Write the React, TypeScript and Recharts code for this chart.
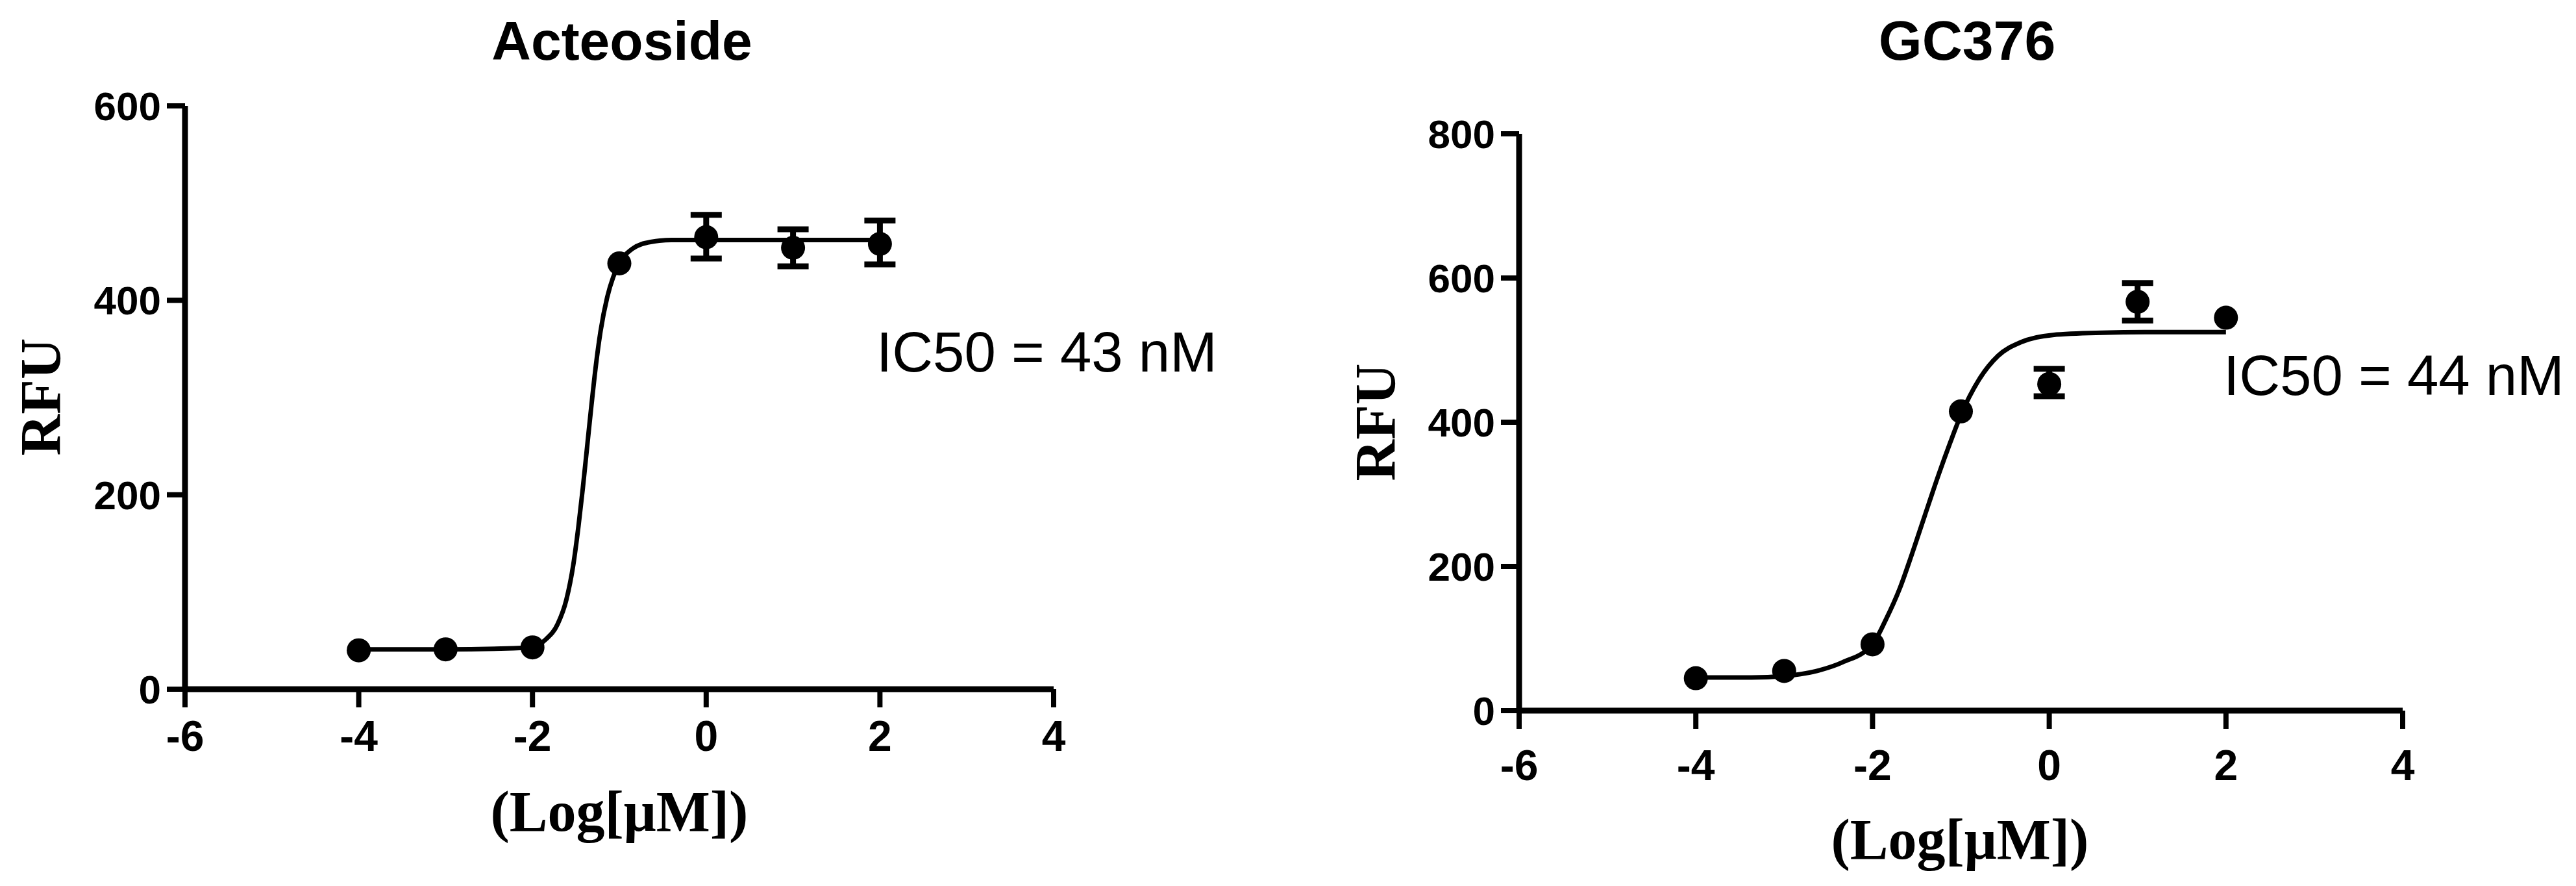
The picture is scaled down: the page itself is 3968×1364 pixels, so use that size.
import React from "react";
import { ComposedChart, Line, Scatter, ErrorBar, XAxis, YAxis } from "recharts";

// log10 dose in µM, shared by both panels
const doseLog = [-4, -3, -2, -1, 0, 1, 2];
const xTicks = [-6, -4, -2, 0, 2, 4];

// Acteoside
const actRfu = [40, 41, 43, 438, 465, 454, 458];
const actErrLow = [null, null, null, null, 22, 19, 21];
const actErrHigh = [null, null, null, null, 23, 19, 24];
const actFitX = [-4, -3, -2, -1.85, -1.71, -1.61, -1.53, -1.47, -1.42, -1.37, -1.32, -1.27, -1.22, -1.14, -1.07, -1.0, -0.85, -0.64, -0.4, 0, 1, 2];
const actFitY = [41, 41, 43, 51, 67, 92, 128, 168, 207, 250, 293, 333, 366, 403, 424, 438, 453, 460, 462, 462, 462, 462];
const actYTicks = [0, 200, 400, 600];

// GC376
const gcRfu = [45, 55, 92, 415, 453, 567, 545];
const gcErrLow = [null, null, null, null, 17, 26, null];
const gcErrHigh = [null, null, null, null, 21, 26, null];
const gcFitX = [-4, -3.37, -3.0, -2.6, -2.34, -2.0, -1.85, -1.69, -1.56, -1.41, -1.25, -1.12, -1.0, -0.79, -0.58, -0.32, 0.04, 0.6, 1.2, 2];
const gcFitY = [46, 46, 48, 56, 67, 92, 126, 170, 215, 270, 328, 372, 410, 460, 492, 511, 521, 524, 525, 525];
const gcYTicks = [0, 200, 400, 600, 800];

const sans = "'Liberation Sans', Arial, sans-serif";
const serif = "'Liberation Serif', 'Times New Roman', serif";

function buildPoints(rfu: number[], lo: (number | null)[], hi: (number | null)[]) {
  return doseLog.map((x, i) => ({
    x,
    y: rfu[i],
    err: lo[i] == null ? null : [lo[i], hi[i]],
  }));
}

function buildFit(xs: number[], ys: number[]) {
  return xs.map((x, i) => ({ x, y: ys[i] }));
}

const Dot = (p: any) => <circle cx={p.cx} cy={p.cy} r={18.5} fill="#000" />;

interface PanelProps {
  left: number;
  margin: { top: number; right: number; bottom: number; left: number };
  yMax: number;
  yTicks: number[];
  points: { x: number; y: number; err: number[] | null }[];
  fit: { x: number; y: number }[];
  xTickMargin: number;
}

function Panel({ left, margin, yMax, yTicks, points, fit, xTickMargin }: PanelProps) {
  const tickStyle = { fontWeight: 700, fill: "#000", fontFamily: sans };
  return (
    <div style={{ position: "absolute", left, top: 0 }}>
      <ComposedChart width={1984} height={1364} margin={margin}>
        <XAxis
          type="number"
          dataKey="x"
          domain={[-6, 4]}
          ticks={xTicks}
          allowDataOverflow
          axisLine={{ stroke: "#000", strokeWidth: 9 }}
          tickLine={{ stroke: "#000", strokeWidth: 8 }}
          tickSize={28}
          tickMargin={xTickMargin}
          height={120}
          tick={{ ...tickStyle, fontSize: 66 }}
        />
        <YAxis
          type="number"
          domain={[0, yMax]}
          ticks={yTicks}
          allowDataOverflow
          axisLine={{ stroke: "#000", strokeWidth: 9 }}
          tickLine={{ stroke: "#000", strokeWidth: 8 }}
          tickSize={28}
          tickMargin={9}
          width={200}
          tick={{ ...tickStyle, fontSize: 62 }}
        />
        <Line
          data={fit}
          dataKey="y"
          type="monotone"
          stroke="#000"
          strokeWidth={7}
          dot={false}
          activeDot={false}
          isAnimationActive={false}
        />
        <Scatter data={points} dataKey="y" shape={Dot} isAnimationActive={false}>
          <ErrorBar dataKey="err" direction="y" width={24} stroke="#000" strokeWidth={9} />
        </Scatter>
      </ComposedChart>
    </div>
  );
}

export default function App() {
  const actPoints = buildPoints(actRfu, actErrLow, actErrHigh);
  const gcPoints = buildPoints(gcRfu, gcErrLow, gcErrHigh);
  return (
    <div style={{ position: "absolute", left: 0, top: 0, width: 3968, height: 1364, background: "#fff" }}>
      <Panel
        left={0}
        margin={{ top: 163, right: 361, bottom: 183, left: 85 }}
        yMax={600}
        yTicks={actYTicks}
        points={actPoints}
        fit={buildFit(actFitX, actFitY)}
        xTickMargin={20}
      />
      <Panel
        left={1984}
        margin={{ top: 206, right: 267, bottom: 150, left: 156 }}
        yMax={800}
        yTicks={gcYTicks}
        points={gcPoints}
        fit={buildFit(gcFitX, gcFitY)}
        xTickMargin={32}
      />
      <svg
        width={3968}
        height={1364}
        style={{ position: "absolute", left: 0, top: 0, pointerEvents: "none" }}
      >
        <g fill="#000">
          <text x={958} y={92} textAnchor="middle" fontFamily={sans} fontWeight={700} fontSize={84}>
            Acteoside
          </text>
          <text x={3030} y={92} textAnchor="middle" fontFamily={sans} fontWeight={700} fontSize={86}>
            GC376
          </text>
          <text transform="translate(92,611) rotate(-90)" textAnchor="middle" fontFamily={serif} fontWeight={700} fontSize={88}>
            RFU
          </text>
          <text transform="translate(2148,650) rotate(-90)" textAnchor="middle" fontFamily={serif} fontWeight={700} fontSize={88}>
            RFU
          </text>
          <text x={954} y={1279} textAnchor="middle" fontFamily={serif} fontWeight={700} fontSize={88}>
            (Log[μM])
          </text>
          <text x={3019} y={1322} textAnchor="middle" fontFamily={serif} fontWeight={700} fontSize={88}>
            (Log[μM])
          </text>
          <text x={1350} y={572} fontFamily={sans} fontSize={87}>
            IC50 = 43 nM
          </text>
          <text x={3425} y={608} fontFamily={sans} fontSize={87}>
            IC50 = 44 nM
          </text>
        </g>
      </svg>
    </div>
  );
}
